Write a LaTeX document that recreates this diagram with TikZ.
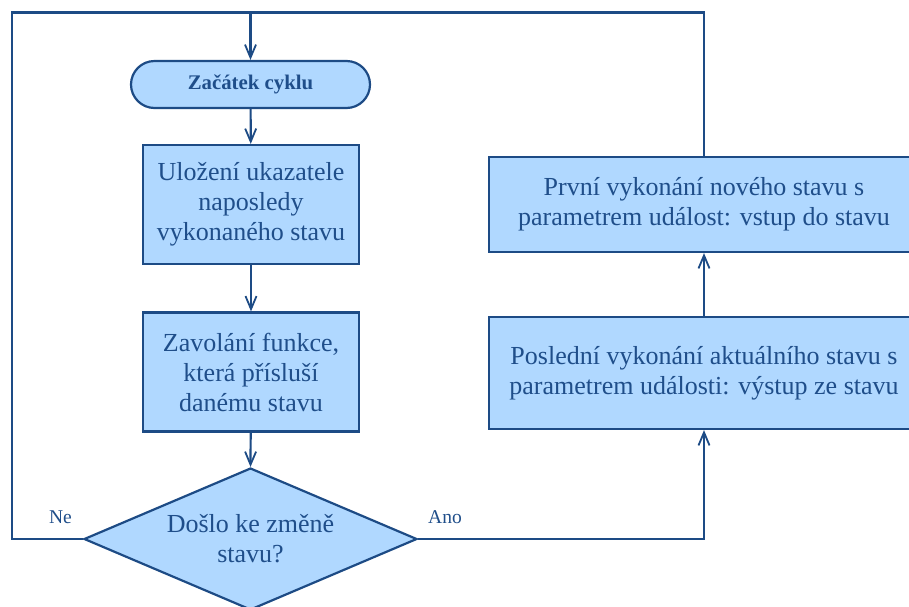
\documentclass[tikz,border=0pt]{standalone}
\usepackage{fontspec}
\setmainfont{Liberation Serif}
\usetikzlibrary{shapes.geometric,arrows.meta}
\definecolor{boxfill}{HTML}{B0D8FF}
\definecolor{boxline}{HTML}{1D4B85}
\definecolor{txt}{HTML}{1F4E8A}
\tikzset{
  base/.style={draw=boxline, fill=boxfill, line width=2.2pt, text=txt, inner sep=0pt, align=center, font=\fontsize{26}{30}\selectfont},
  procbox/.style={base, rectangle, minimum width=216pt, minimum height=119pt},
  widebox/.style={base, rectangle, minimum width=430pt},
  startbox/.style={base, rectangle, rounded corners=23.5pt, minimum width=239pt, minimum height=47pt, font=\fontsize{20.8}{24}\selectfont\bfseries},
  decbox/.style={base, diamond, aspect=2.35, minimum width=333pt, minimum height=142pt},
  conn/.style={draw=boxline, line width=2.2pt},
  arr/.style={conn, -{Straight Barb[length=13pt,width=11pt,line width=1.8pt]}},
  lbl/.style={text=txt, font=\fontsize{19.5}{23}\selectfont, inner sep=0pt}
}
\begin{document}
\begin{tikzpicture}[x=1pt,y=-1pt]
\clip (0,0) rectangle (909,606);
\fill[white] (0,0) rectangle (909,606);
\node[startbox] (s) at (250.5,84.5) {Začátek cyklu};
\node[procbox] (b1) at (251,204.5) {Uložení ukazatele\\naposledy\\vykonaného stavu};
\node[procbox] (b2) at (251,372) {Zavolání funkce,\\která přísluší\\danému stavu};
\node[decbox] (d) at (250.5,539) {Došlo ke změně\\stavu?};
\node[widebox, minimum height=95pt] (p) at (704,204.5) {První vykonání nového stavu s\\parametrem událost: vstup do stavu};
\node[widebox, minimum height=112pt] (q) at (704,373) {Poslední vykonání aktuálního stavu s\\parametrem události: výstup ze stavu};
\coordinate (tl) at (12,12.5);
\coordinate (jn) at (250.5,12.5);
\coordinate (tr) at (704,12.5);
\draw[conn] (d.west) -| (tl) -- (tr) -- (p.north);
\draw[arr] (jn) -- (s.north);
\draw[arr] (s) -- (b1);
\draw[arr] (b1) -- (b2);
\draw[arr] (b2) -- (d.north);
\draw[arr] (d.east) -| (q.south);
\draw[arr] (q) -- (p);
\node[lbl] (ne) at (60.5,517) {Ne};
\node[lbl] (ano) at (445,517) {Ano};
\end{tikzpicture}
\end{document}
